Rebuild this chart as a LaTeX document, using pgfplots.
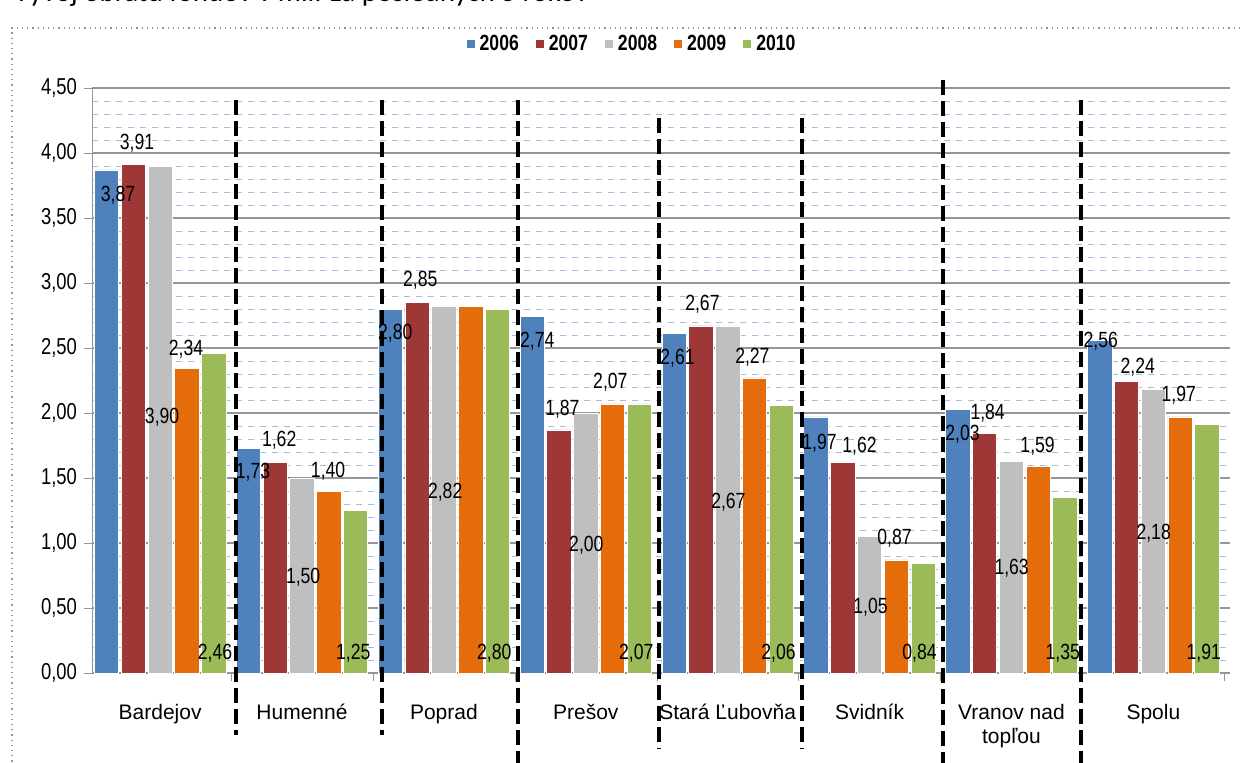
\documentclass[border=0pt]{standalone}
\usepackage{fontspec}
\setmainfont{Liberation Sans}
\newfontfamily\narrowfont[FakeStretch=0.8]{Liberation Sans}
\newfontfamily\titlefont{Carlito}
\usepackage{pgfplots}
\usepackage{pgfplotstable}
\pgfplotsset{compat=1.18}

\definecolor{c2006}{RGB}{79,129,189}
\definecolor{c2007}{RGB}{157,56,54}
\definecolor{c2008}{RGB}{191,191,191}
\definecolor{c2009}{RGB}{228,108,10}
\definecolor{c2010}{RGB}{155,187,89}
\definecolor{majgrid}{RGB}{150,150,150}
\definecolor{mingrid}{RGB}{165,188,215}
\definecolor{framec}{RGB}{130,150,175}

\pgfplotsset{sq/.style={legend image code/.code={\fill[##1] (0pt,-2.3pt) rectangle (4.6pt,2.3pt);}}}

\pgfplotstableread{
x y2006 y2007 y2008 y2009 y2010
0 3.87 3.91 3.90 2.34 2.46
1 1.73 1.62 1.50 1.40 1.25
2 2.80 2.85 2.82 2.82 2.80
3 2.74 1.87 2.00 2.07 2.07
4 2.61 2.67 2.67 2.27 2.06
5 1.97 1.62 1.05 0.87 0.84
6 2.03 1.84 1.63 1.59 1.35
7 2.56 2.24 2.18 1.97 1.91
}\data

\newcommand\lbl[3]{\node[font=\narrowfont\fontsize{11}{12}\selectfont, inner sep=0pt] at (axis cs:#1,#2) {#3};}
\newcommand\sep[3]{\draw[black, line width=2pt, dash pattern=on 7.5pt off 3pt] (axis cs:#1,#2) -- (axis cs:#1,#3);}

\begin{document}
\begin{tikzpicture}
\useasboundingbox (0pt,0pt) rectangle (620pt,381pt);
\draw[framec, dotted, line width=0.6pt] (6pt,-5pt) rectangle (640pt,367pt);
\node[anchor=base west, inner sep=0pt, font=\titlefont\fontsize{14.5}{16}\selectfont] at (6.5pt,380.3pt) {Vývoj obratu fondov v mil. za posledných 5 rokov};
\begin{axis}[
  at={(46pt,44.5pt)}, anchor=south west,
  width=569pt, height=292.5pt, scale only axis,
  ybar=1.2pt, bar width=12.2pt,
  xmin=-0.48, xmax=7.54, ymin=0, ymax=4.5,
  clip=false,
  axis x line*=bottom, axis y line*=left,
  axis line style={majgrid, -},
  xtick={0,...,7},
  xticklabels={Bardejov, Humenné, Poprad, Prešov, Stará Ľubovňa, Svidník, {Vranov nad\\topľou}, Spolu},
  xticklabel style={align=center, font=\fontsize{10.5}{12}\selectfont, yshift=-8pt},
  minor xtick={0.5,1.5,...,7.5},
  major x tick style={draw=none},
  minor y tick style={draw=none},
  tick align=outside, major tick length=4pt, minor tick length=4pt,
  tick style={majgrid},
  ytick={0,0.5,1,1.5,2,2.5,3,3.5,4,4.5},
  minor y tick num=4,
  ymajorgrids, yminorgrids,
  major grid style={majgrid, line width=0.6pt},
  minor grid style={mingrid, dashed, line width=0.4pt},
  yticklabel style={font=\narrowfont\fontsize{11.5}{13}\selectfont},
  /pgf/number format/.cd, fixed, fixed zerofill, precision=2, use comma, assume math mode=true,
  /pgfplots/.cd,
  legend style={draw=none, fill=none, at={(0.475,1.075)}, anchor=center,
    font=\narrowfont\bfseries\fontsize{11}{12}\selectfont,
    /tikz/every even column/.append style={column sep=6pt}},
  legend columns=5,
]
\addplot[fill=c2006, draw=white, line width=0.4pt, sq] table[x=x,y=y2006]{\data};
\addplot[fill=c2007, draw=white, line width=0.4pt, sq] table[x=x,y=y2007]{\data};
\addplot[fill=c2008, draw=white, line width=0.4pt, sq] table[x=x,y=y2008]{\data};
\addplot[fill=c2009, draw=white, line width=0.4pt, sq] table[x=x,y=y2009]{\data};
\addplot[fill=c2010, draw=white, line width=0.4pt, sq] table[x=x,y=y2010]{\data};
\legend{2006,2007,2008,2009,2010}

% data labels, placed where the original has them
\lbl{-0.297}{3.677}{3,87}\lbl{-0.163}{4.077}{3,91}\lbl{0.014}{1.969}{3,90}\lbl{0.183}{2.492}{2,34}\lbl{0.387}{0.15}{2,46}
\lbl{0.655}{1.546}{1,73}\lbl{0.839}{1.792}{1,62}\lbl{1.008}{0.738}{1,50}\lbl{1.184}{1.554}{1,40}\lbl{1.361}{0.15}{1,25}
\lbl{1.657}{2.615}{2,80}\lbl{1.833}{3.023}{2,85}\lbl{2.009}{1.392}{2,82}\lbl{2.355}{0.15}{2,80}
\lbl{2.658}{2.554}{2,74}\lbl{2.835}{2.031}{1,87}\lbl{3.004}{0.985}{2,00}\lbl{3.173}{2.238}{2,07}\lbl{3.356}{0.15}{2,07}
\lbl{3.646}{2.423}{2,61}\lbl{3.822}{2.838}{2,67}\lbl{4.005}{1.315}{2,67}\lbl{4.174}{2.431}{2,27}\lbl{4.358}{0.15}{2,06}
\lbl{4.647}{1.769}{1,97}\lbl{4.929}{1.746}{1,62}\lbl{5.007}{0.508}{1,05}\lbl{5.176}{1.038}{0,87}\lbl{5.352}{0.15}{0,84}
\lbl{5.655}{1.838}{2,03}\lbl{5.832}{2.000}{1,84}\lbl{6.001}{0.808}{1,63}\lbl{6.184}{1.746}{1,59}\lbl{6.361}{0.15}{1,35}
\lbl{6.629}{2.554}{2,56}\lbl{6.890}{2.354}{2,24}\lbl{7.002}{1.077}{2,18}\lbl{7.179}{2.138}{1,97}\lbl{7.355}{0.15}{1,91}

% hand-drawn dashed separators
\sep{0.536}{4.41}{-0.48}
\sep{1.565}{4.41}{-0.48}
\sep{2.524}{4.41}{-0.75}
\sep{3.519}{4.27}{-0.58}
\sep{4.527}{4.27}{-0.58}
\sep{5.514}{4.56}{-0.75}
\sep{6.488}{4.41}{-0.75}
\end{axis}
\end{tikzpicture}
\end{document}
